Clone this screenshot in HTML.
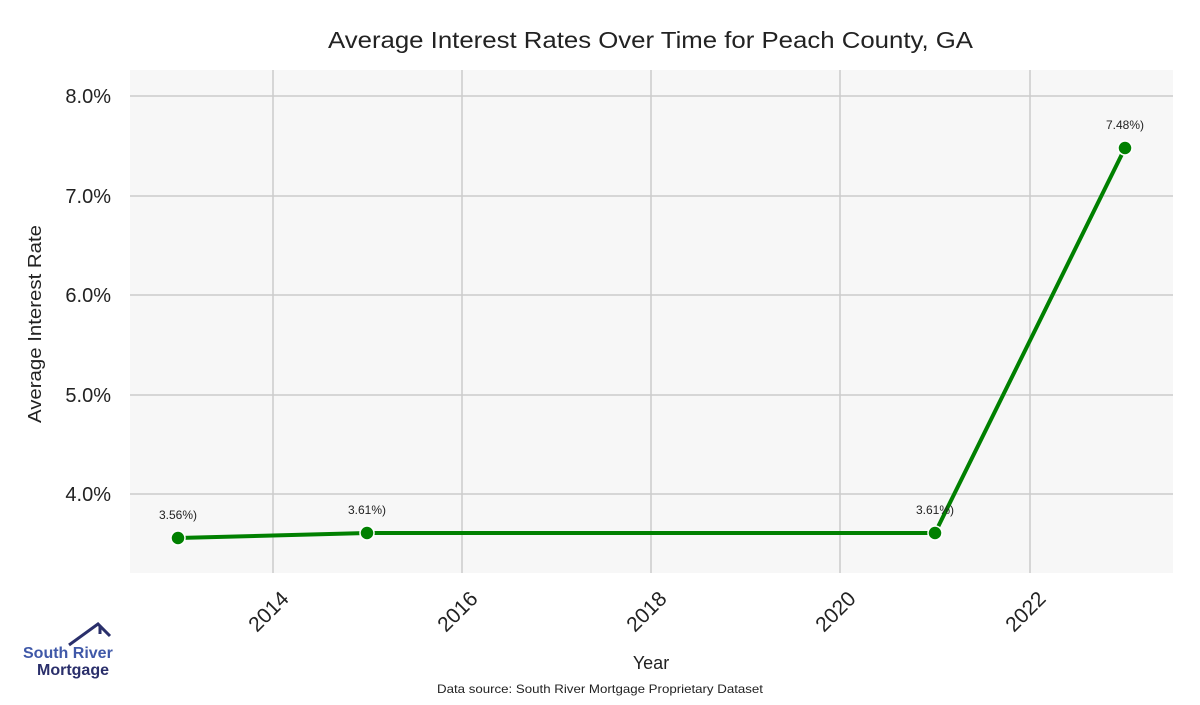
<!DOCTYPE html>
<html><head><style>body{margin:0;background:#fff}</style></head><body>
<svg width="1200" height="700" xmlns="http://www.w3.org/2000/svg" font-family="Liberation Sans, sans-serif">
<rect x="130" y="70" width="1043" height="503" fill="#f7f7f7"/>
<g stroke="#cccccc" stroke-width="1.5">
<line x1="130" x2="1173" y1="96" y2="96"/><line x1="130" x2="1173" y1="196" y2="196"/>
<line x1="130" x2="1173" y1="295" y2="295"/><line x1="130" x2="1173" y1="395" y2="395"/>
<line x1="130" x2="1173" y1="494" y2="494"/>
<line x1="273" x2="273" y1="70" y2="573"/><line x1="462" x2="462" y1="70" y2="573"/>
<line x1="651" x2="651" y1="70" y2="573"/><line x1="840" x2="840" y1="70" y2="573"/>
<line x1="1030" x2="1030" y1="70" y2="573"/>
</g>
<text x="328" y="48" font-size="23" textLength="645" lengthAdjust="spacingAndGlyphs" fill="#222">Average Interest Rates Over Time for Peach County, GA</text>
<g font-size="20" fill="#222" text-anchor="end">
<text x="111" y="103">8.0%</text><text x="111" y="203">7.0%</text><text x="111" y="302">6.0%</text>
<text x="111" y="402">5.0%</text><text x="111" y="501">4.0%</text>
</g>
<text transform="translate(41,423) rotate(-90)" font-size="18" textLength="198" lengthAdjust="spacingAndGlyphs" fill="#222">Average Interest Rate</text>
<g font-size="21" fill="#222" text-anchor="end">
<text transform="translate(290,600) rotate(-45)">2014</text>
<text transform="translate(479,600) rotate(-45)">2016</text>
<text transform="translate(668,600) rotate(-45)">2018</text>
<text transform="translate(857,600) rotate(-45)">2020</text>
<text transform="translate(1047,600) rotate(-45)">2022</text>
</g>
<text x="651" y="669" font-size="18" text-anchor="middle" fill="#222">Year</text>
<text x="437" y="693" font-size="12" textLength="326" lengthAdjust="spacingAndGlyphs" fill="#222">Data source: South River Mortgage Proprietary Dataset</text>
<polyline points="178,538 367,533 935,533 1125,148" fill="none" stroke="#008000" stroke-width="4"/>
<g fill="#008000" stroke="#fff" stroke-width="1.5">
<circle cx="178" cy="538" r="7"/><circle cx="367" cy="533" r="7"/><circle cx="935" cy="533" r="7"/><circle cx="1125" cy="148" r="7"/>
</g>
<g font-size="12" fill="#222" text-anchor="middle">
<text x="178" y="519">3.56%)</text><text x="367" y="514">3.61%)</text><text x="935" y="514">3.61%)</text><text x="1125" y="129">7.48%)</text>
</g>
<polyline points="69,645 98,624 110,636" fill="none" stroke="#2a2f6b" stroke-width="3"/>
<line x1="100" y1="626" x2="100" y2="634" stroke="#2a2f6b" stroke-width="3"/>
<text x="23" y="658" font-size="16" font-weight="bold" fill="#3f58a8">South River</text>
<text x="37" y="675" font-size="16" font-weight="bold" fill="#2a2f6b">Mortgage</text>
</svg>
</body></html>
